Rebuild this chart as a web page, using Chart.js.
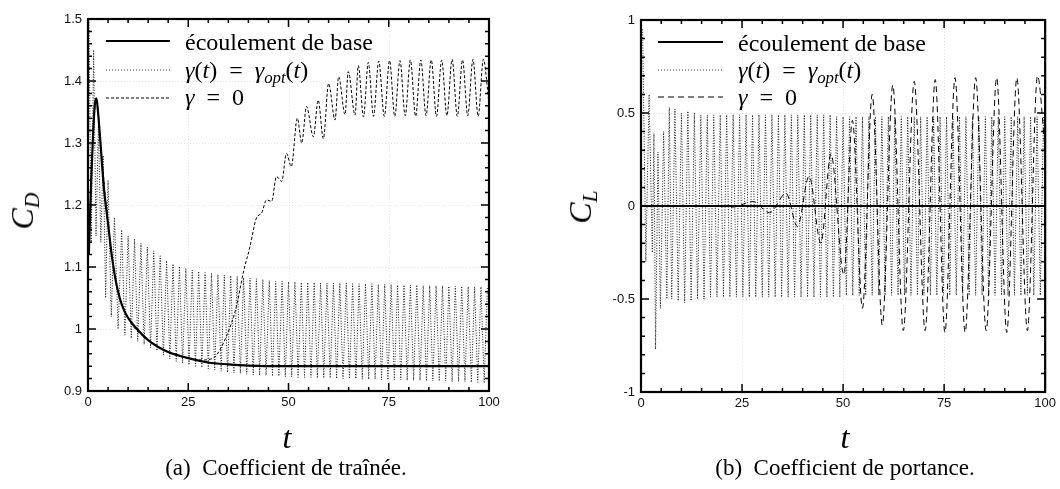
<!DOCTYPE html>
<html>
<head>
<meta charset="utf-8">
<script src="https://cdn.jsdelivr.net/npm/chart.js@4.4.1/dist/chart.umd.min.js"></script>
<style>
    body { margin: 0; width: 1060px; height: 489px; background: #fff; overflow: hidden; position: relative; }
    canvas { position: absolute; top: 0; }
    .txt { position: absolute; font-family: 'Liberation Serif', 'DejaVu Serif', serif; color: #000; white-space: nowrap; }
    .axlab { font-size: 32px; font-style: italic; line-height: 32px; }
    .axlab sub { font-size: 0.68em; vertical-align: -0.28em; }
    .caption { font-size: 23px; line-height: 23px; top: 456px; transform: translateX(-50%); }
    .leg { font-size: 24px; line-height: 24px; }
    .leg sub { font-size: 0.7em; vertical-align: -0.3em; font-style: italic; }
    .sample { position: absolute; }
</style>
</head>
<body>
<canvas id="dragChart" width="530" height="420" style="left:0"></canvas>
<canvas id="liftChart" width="530" height="420" style="left:530px"></canvas>

<!-- titres des axes -->
<div class="txt axlab" style="left:27px;top:211px;transform:translate(-50%,-50%) rotate(-90deg)">C<sub>D</sub></div>
<div class="txt axlab" style="left:585px;top:207px;transform:translate(-50%,-50%) rotate(-90deg)">C<sub>L</sub></div>
<div class="txt axlab" style="left:287px;top:421px;transform:translateX(-50%)">t</div>
<div class="txt axlab" style="left:845px;top:421px;transform:translateX(-50%)">t</div>

<!-- légendes -->
<svg class="sample" style="left:106px;top:30px" width="66" height="80">
    <line x1="0" y1="11" x2="64" y2="11" stroke="#000" stroke-width="2"/>
    <line x1="0" y1="40" x2="64" y2="40" stroke="#444" stroke-width="1" stroke-dasharray="1 2"/>
    <line x1="0" y1="68" x2="64" y2="68" stroke="#000" stroke-width="1" stroke-dasharray="3 2"/>
</svg>
<div class="txt leg" style="left:185px;top:30px">écoulement de base</div>
<div class="txt leg" style="left:185px;top:58px"><i>γ</i>(<i>t</i>)&nbsp; = &nbsp;<i>γ</i><sub>opt</sub>(<i>t</i>)</div>
<div class="txt leg" style="left:185px;top:85px"><i>γ</i>&nbsp; = &nbsp;0</div>

<svg class="sample" style="left:658px;top:30px" width="66" height="80">
    <line x1="0" y1="12" x2="65" y2="12" stroke="#000" stroke-width="2"/>
    <line x1="0" y1="40" x2="65" y2="40" stroke="#444" stroke-width="1" stroke-dasharray="1 2"/>
    <line x1="0" y1="67" x2="65" y2="67" stroke="#000" stroke-width="1" stroke-dasharray="6 4"/>
</svg>
<div class="txt leg" style="left:738px;top:31px">écoulement de base</div>
<div class="txt leg" style="left:738px;top:58px"><i>γ</i>(<i>t</i>)&nbsp; = &nbsp;<i>γ</i><sub>opt</sub>(<i>t</i>)</div>
<div class="txt leg" style="left:738px;top:85px"><i>γ</i>&nbsp; = &nbsp;0</div>

<div class="txt caption" style="left:286px">(a)&nbsp; Coefficient de traînée.</div>
<div class="txt caption" style="left:845px">(b)&nbsp; Coefficient de portance.</div>

<script>
// Graduations
const tMajor = [0, 25, 50, 75, 100];
const tMinor = [5, 10, 15, 20, 30, 35, 40, 45, 55, 60, 65, 70, 80, 85, 90, 95];
const cdMajor = [0.9, 1, 1.1, 1.2, 1.3, 1.4, 1.5];
const cdMinor = [0.92, 0.94, 0.96, 0.98, 1.02, 1.04, 1.06, 1.08, 1.12, 1.14, 1.16, 1.18,
                 1.22, 1.24, 1.26, 1.28, 1.32, 1.34, 1.36, 1.38, 1.42, 1.44, 1.46, 1.48];
const clMajor = [-1, -0.5, 0, 0.5, 1];
const clMinor = [-0.9, -0.8, -0.7, -0.6, -0.4, -0.3, -0.2, -0.1, 0.1, 0.2, 0.3, 0.4, 0.6, 0.7, 0.8, 0.9];

// (a) traînée - écoulement de base
const tBaseD = [0.2, 0.8, 1.3, 1.7, 2.1, 2.5, 3.0, 3.5, 4.0, 5.0, 6.0, 7.0, 8.0, 9.0, 10, 12.5, 15, 17.5,
                20, 25, 30, 35, 40, 50, 60, 80, 100];
const cdBase = [1.12, 1.24, 1.32, 1.362, 1.372, 1.35, 1.31, 1.265, 1.225, 1.17, 1.115, 1.075, 1.048, 1.03,
                1.018, 0.998, 0.982, 0.971, 0.963, 0.953, 0.946, 0.943, 0.941, 0.94, 0.94, 0.94, 0.94];

// (a) traînée - gamma optimal
const tOptD = [0.2, 0.8, 1.4, 2.0, 2.6, 3.2, 3.8, 4.4, 5.0, 5.8, 6.6, 7.5,
    8.4, 9.2, 10.0, 10.8, 11.6, 12.4, 13.2, 14.0, 14.8, 15.6,
    16.4, 17.2, 18.0, 18.8, 19.6, 20.4, 21.2, 22.0, 22.8, 23.6,
    24.4, 25.2, 26.0, 26.8, 27.6, 28.4, 29.2, 30.0, 30.8, 31.6,
    32.4, 33.2, 34.0, 34.8, 35.6, 36.4, 37.2, 38.0, 38.8, 39.6,
    40.4, 41.2, 42.0, 42.8, 43.6, 44.4, 45.2, 46.0, 46.8, 47.6,
    48.4, 49.2, 50.0, 50.8, 51.6, 52.4, 53.2, 54.0, 54.8, 55.6,
    56.4, 57.2, 58.0, 58.8, 59.6, 60.4, 61.2, 62.0, 62.8, 63.6,
    64.4, 65.2, 66.0, 66.8, 67.6, 68.4, 69.2, 70.0, 70.8, 71.6,
    72.4, 73.2, 74.0, 74.8, 75.6, 76.4, 77.2, 78.0, 78.8, 79.6,
    80.4, 81.2, 82.0, 82.8, 83.6, 84.4, 85.2, 86.0, 86.8, 87.6,
    88.4, 89.2, 90.0, 90.8, 91.6, 92.4, 93.2, 94.0, 94.8, 95.6,
    96.4, 97.2, 98.0, 98.8, 99.6];
const cdOpt = [1.52, 1.14, 1.45, 1.15, 1.33, 1.14, 1.28, 1.05, 1.24, 1.02, 1.18, 1.0,
    1.16, 0.99, 1.15, 0.985, 1.145, 0.98, 1.138, 0.975, 1.132, 0.97,
    1.126, 0.965, 1.118, 0.958, 1.11, 0.952, 1.105, 0.948, 1.101, 0.945,
    1.098, 0.942, 1.095, 0.94, 1.093, 0.938, 1.091, 0.936, 1.09, 0.934,
    1.088, 0.932, 1.087, 0.93, 1.086, 0.929, 1.085, 0.928, 1.083, 0.927,
    1.082, 0.926, 1.081, 0.925, 1.08, 0.925, 1.078, 0.924, 1.077, 0.924,
    1.077, 0.923, 1.076, 0.923, 1.076, 0.922, 1.075, 0.922, 1.075, 0.922,
    1.075, 0.921, 1.074, 0.921, 1.074, 0.921, 1.074, 0.92, 1.074, 0.92,
    1.074, 0.92, 1.073, 0.92, 1.073, 0.919, 1.073, 0.919, 1.073, 0.919,
    1.072, 0.918, 1.072, 0.918, 1.072, 0.918, 1.071, 0.918, 1.071, 0.917,
    1.071, 0.917, 1.071, 0.917, 1.07, 0.916, 1.07, 0.916, 1.07, 0.916,
    1.07, 0.916, 1.069, 0.915, 1.069, 0.915, 1.069, 0.915, 1.068, 0.914,
    1.068, 0.914, 1.068, 0.913, 1.068];

// (a) traînée - gamma = 0
const tZeroD = [0.2, 1.0, 2.1, 3.0, 5.0, 7.0, 10, 15, 20, 25, 28.5, 31.2, 34.5, 37.0, 38.7, 40.4, 42.0,
                43.3, 44.5, 45.8, 47.0, 48.3, 49.5, 50.7, 52.2, 53.3, 54.5, 56.2, 57.4, 58.7, 60.0, 61.6,
                62.5, 64.1, 64.9, 66.6, 67.4, 68.7, 69.9, 71.2, 72.5, 73.9, 75.2, 76.5, 77.8, 79.1, 80.4,
                81.7, 83.0, 84.3, 85.6, 86.9, 88.2, 89.5, 90.8, 92.1, 93.4, 94.7, 96.0, 97.3, 98.6, 99.9];
const cdZero = [1.12, 1.27, 1.372, 1.31, 1.17, 1.075, 1.018, 0.982, 0.963, 0.953, 0.95, 0.953, 0.988, 1.036,
                1.09, 1.133, 1.179, 1.187, 1.208, 1.206, 1.246, 1.238, 1.283, 1.262, 1.34, 1.30, 1.359, 1.31,
                1.369, 1.307, 1.396, 1.337, 1.407, 1.346, 1.415, 1.345, 1.425, 1.342, 1.43, 1.343, 1.432,
                1.343, 1.433, 1.343, 1.433, 1.344, 1.434, 1.343, 1.434, 1.344, 1.434, 1.343, 1.434, 1.344,
                1.435, 1.343, 1.434, 1.344, 1.435, 1.343, 1.435, 1.37];

// (b) portance - écoulement de base
const tBaseL = [0, 100];
const clBase = [0, 0];

// (b) portance - gamma optimal
const tOptL = [0.4, 1.2, 2.0, 2.8, 3.2, 3.6, 4.2, 4.8, 5.6, 6.4, 7.0, 7.6,
    8.4, 9.2, 10.0, 10.8, 11.6, 12.4, 13.2, 14.0, 14.8, 15.6,
    16.4, 17.2, 18.0, 18.8, 19.6, 20.4, 21.2, 22.0, 22.8, 23.6,
    24.4, 25.2, 26.0, 26.8, 27.6, 28.4, 29.2, 30.0, 30.8, 31.6,
    32.4, 33.2, 34.0, 34.8, 35.6, 36.4, 37.2, 38.0, 38.8, 39.6,
    40.4, 41.2, 42.0, 42.8, 43.6, 44.4, 45.2, 46.0, 46.8, 47.6,
    48.4, 49.2, 50.0, 50.8, 51.6, 52.4, 53.2, 54.0, 54.8, 55.6,
    56.4, 57.2, 58.0, 58.8, 59.6, 60.4, 61.2, 62.0, 62.8, 63.6,
    64.4, 65.2, 66.0, 66.8, 67.6, 68.4, 69.2, 70.0, 70.8, 71.6,
    72.4, 73.2, 74.0, 74.8, 75.6, 76.4, 77.2, 78.0, 78.8, 79.6,
    80.4, 81.2, 82.0, 82.8, 83.6, 84.4, 85.2, 86.0, 86.8, 87.6,
    88.4, 89.2, 90.0, 90.8, 91.6, 92.4, 93.2, 94.0, 94.8, 95.6,
    96.4, 97.2, 98.0, 98.8, 99.6];
const clOpt = [0.95, -0.3, 0.6, -0.25, 0.39, -0.77, 0.29, -0.55, 0.4, -0.5, 0.53, -0.5,
    0.52, -0.51, 0.5, -0.52, 0.51, -0.51, 0.5, -0.5, 0.49, -0.5,
    0.49, -0.49, 0.49, -0.49, 0.49, -0.49, 0.49, -0.49, 0.49, -0.49,
    0.49, -0.49, 0.49, -0.49, 0.49, -0.49, 0.49, -0.49, 0.49, -0.49,
    0.49, -0.49, 0.49, -0.49, 0.49, -0.49, 0.49, -0.49, 0.49, -0.49,
    0.49, -0.49, 0.49, -0.49, 0.49, -0.49, 0.49, -0.49, 0.49, -0.49,
    0.48, -0.49, 0.48, -0.48, 0.48, -0.48, 0.48, -0.48, 0.48, -0.48,
    0.48, -0.48, 0.48, -0.48, 0.48, -0.48, 0.48, -0.48, 0.48, -0.48,
    0.48, -0.48, 0.48, -0.48, 0.48, -0.48, 0.48, -0.48, 0.48, -0.48,
    0.48, -0.48, 0.48, -0.48, 0.48, -0.48, 0.48, -0.48, 0.48, -0.48,
    0.48, -0.48, 0.48, -0.48, 0.48, -0.48, 0.48, -0.48, 0.48, -0.48,
    0.48, -0.48, 0.48, -0.48, 0.48, -0.48, 0.48, -0.48, 0.48, -0.48,
    0.48, -0.48, 0.48, -0.48, 0.48];

// (b) portance - gamma = 0
const tZeroL = [0, 10, 20, 22.7, 27.7, 31.8, 35.9, 38.7, 41.6, 44.5, 47.0, 50.2, 52.3, 54.8, 57.2, 59.7,
                62.3, 64.9, 67.6, 70.3, 72.8, 75.2, 77.7, 80.2, 82.8, 85.4, 88.0, 90.5, 93.0, 95.6, 98.1, 100];
const clZero = [0, 0, 0, -0.006, 0.024, -0.036, 0.068, -0.11, 0.16, -0.2, 0.28, -0.37, 0.46, -0.55, 0.6, -0.64,
                0.65, -0.67, 0.67, -0.67, 0.68, -0.68, 0.69, -0.68, 0.69, -0.67, 0.69, -0.68, 0.69, -0.67, 0.7, 0.3];

Chart.defaults.font.family = "'Liberation Sans', Arial, sans-serif";
Chart.defaults.color = '#111';

function pts(xs, ys) {
    return xs.map((x, i) => ({ x: x, y: ys[i] }));
}

// Cadre épais, graduations vers l'intérieur sur les 4 côtés
const framePlugin = {
    id: 'frameTicks',
    beforeDatasetsDraw(chart, args, o) {
        const { ctx, chartArea: a, scales: { x, y } } = chart;
        ctx.save();
        ctx.strokeStyle = 'rgba(0,0,0,0.10)';
        ctx.lineWidth = 1;
        ctx.setLineDash([1, 2]);
        o.xMajor.forEach(v => {
            const px = Math.round(x.getPixelForValue(v)) + 0.5;
            ctx.beginPath(); ctx.moveTo(px, a.top); ctx.lineTo(px, a.bottom); ctx.stroke();
        });
        o.yMajor.forEach(v => {
            const py = Math.round(y.getPixelForValue(v)) + 0.5;
            ctx.beginPath(); ctx.moveTo(a.left, py); ctx.lineTo(a.right, py); ctx.stroke();
        });
        ctx.restore();
    },
    afterDatasetsDraw(chart, args, o) {
        const { ctx, chartArea: a, scales: { x, y } } = chart;
        ctx.save();
        ctx.strokeStyle = '#000';
        ctx.lineWidth = 1.5;
        const tick = (vals, len) => {
            vals.forEach(v => {
                const px = x.getPixelForValue(v);
                ctx.beginPath();
                ctx.moveTo(px, a.bottom); ctx.lineTo(px, a.bottom - len);
                ctx.moveTo(px, a.top); ctx.lineTo(px, a.top + len);
                ctx.stroke();
            });
        };
        const ytick = (vals, len) => {
            vals.forEach(v => {
                const py = y.getPixelForValue(v);
                ctx.beginPath();
                ctx.moveTo(a.left, py); ctx.lineTo(a.left + len, py);
                ctx.moveTo(a.right, py); ctx.lineTo(a.right - len, py);
                ctx.stroke();
            });
        };
        tick(o.xMajor, 8); tick(o.xMinor, 4);
        ytick(o.yMajor, 8); ytick(o.yMinor, 4);
        ctx.lineWidth = 2.2;
        ctx.strokeRect(a.left, a.top, a.right - a.left, a.bottom - a.top);
        ctx.restore();
    }
};

function makeChart(id, sets, yMin, yMax, yMajor, yMinor, pad) {
    return new Chart(document.getElementById(id), {
        type: 'line',
        data: { datasets: sets },
        options: {
            responsive: false,
            animation: false,
            layout: { padding: pad },
            elements: { point: { radius: 0 } },
            plugins: {
                legend: { display: false },
                tooltip: { enabled: false },
                frameTicks: { xMajor: tMajor, xMinor: tMinor, yMajor: yMajor, yMinor: yMinor }
            },
            scales: {
                x: {
                    type: 'linear', min: 0, max: 100,
                    afterBuildTicks: s => { s.ticks = tMajor.map(v => ({ value: v })); },
                    afterFit: s => { s.height = 25; },
                    ticks: { font: { size: 13 }, padding: 4, maxRotation: 0 },
                    grid: { display: false, drawTicks: false },
                    border: { display: false }
                },
                y: {
                    type: 'linear', min: yMin, max: yMax,
                    afterBuildTicks: s => { s.ticks = yMajor.map(v => ({ value: v })); },
                    afterFit: s => { s.width = 40; },
                    ticks: { font: { size: 13 }, padding: 6, callback: v => String(Math.round(v * 100) / 100) },
                    grid: { display: false, drawTicks: false },
                    border: { display: false }
                }
            }
        },
        plugins: [framePlugin]
    });
}

const solid = { borderColor: '#000', borderWidth: 2.2, tension: 0, cubicInterpolationMode: 'monotone' };
const dotted = { borderColor: '#1a1a1a', borderWidth: 1, borderDash: [1, 1.6], tension: 0 };

makeChart('dragChart', [
    Object.assign({ label: 'écoulement de base', data: pts(tBaseD, cdBase) }, solid),
    { label: 'γ = 0', data: pts(tZeroD, cdZero), borderColor: '#000', borderWidth: 1,
      borderDash: [3, 2], cubicInterpolationMode: 'monotone' },
    Object.assign({ label: 'γ(t) = γopt(t)', data: pts(tOptD, cdOpt) }, dotted)
], 0.9, 1.5, cdMajor, cdMinor, { left: 48, top: 19, right: 41, bottom: 4 });

makeChart('liftChart', [
    Object.assign({ label: 'écoulement de base', data: pts(tBaseL, clBase) }, solid),
    { label: 'γ = 0', data: pts(tZeroL, clZero), borderColor: '#000', borderWidth: 1,
      borderDash: [6, 4], cubicInterpolationMode: 'monotone' },
    Object.assign({ label: 'γ(t) = γopt(t)', data: pts(tOptL, clOpt) }, dotted)
], -1, 1, clMajor, clMinor, { left: 71, top: 20, right: 13, bottom: 3 });
</script>
</body>
</html>
